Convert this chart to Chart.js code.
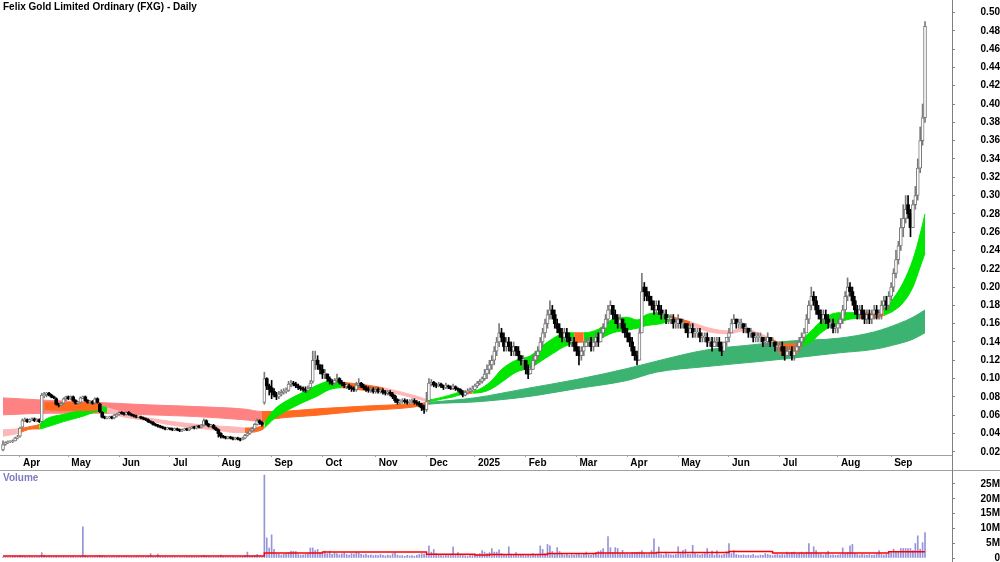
<!DOCTYPE html>
<html><head><meta charset="utf-8">
<script src="https://cdn.jsdelivr.net/npm/chart.js@4.4.1/dist/chart.umd.min.js"></script>
<style>
html,body{margin:0;padding:0;background:#fff;width:1000px;height:562px;overflow:hidden;}
#title{position:absolute;left:3px;top:1px;font:bold 10px "Liberation Sans",Arial,sans-serif;line-height:12px;color:#000;z-index:5;}
#vtitle{position:absolute;left:3px;top:472px;font:bold 10px "Liberation Sans",Arial,sans-serif;line-height:12px;color:#7c7cc0;z-index:5;}
#pc{position:absolute;left:0;top:0;}
#vc{position:absolute;left:0;top:471px;}
#hl{position:absolute;left:0;top:470px;width:1000px;height:1px;background:#a0a0a0;}
#vl{position:absolute;left:952px;top:0;width:1px;height:562px;background:#808080;}
</style></head>
<body>
<canvas id="pc" width="1000" height="470"></canvas>
<canvas id="vc" width="1000" height="91"></canvas>
<div id="hl"></div><div id="vl"></div>
<div id="title">Felix Gold Limited Ordinary (FXG) - Daily</div>
<div id="vtitle">Volume</div>
<script>
// ---- axis categories ----
const monthStart = [7,27,48,69,89,111,132,154,175,195,216,237,258,279,300,321,345,367];
const monthLabels = ['Apr','May','Jun','Jul','Aug','Sep','Oct','Nov','Dec','2025','Feb','Mar','Apr','May','Jun','Jul','Aug','Sep'];
const priceTicks = [0.02,0.04,0.06,0.08,0.10,0.12,0.14,0.16,0.18,0.20,0.22,0.24,0.26,0.28,0.30,0.32,0.34,0.36,0.38,0.40,0.42,0.44,0.46,0.48,0.50];
const volTicks = [0,5,10,15,20,25];

// ---- daily candles (one entry per trading day, Mar 2024 .. Sep 2025) ----
const open = [
.022,.028,.030,.031,.031,.032,.035,
.037,.047,.054,.055,.053,.055,.056,.054,.055,.053,.081,.083,.084,.082,.080,.078,.072,.071,.073,.078,
.080,.078,.080,.076,.073,.074,.079,.080,.076,.074,.075,.073,.078,.072,.063,.058,.057,.057,.058,.057,.059,
.061,.063,.062,.061,.063,.061,.060,.059,.058,.058,.057,.056,.055,.053,.052,.050,.049,.048,.047,.046,.045,
.046,.045,.044,.045,.044,.043,.044,.045,.044,.046,.047,.046,.048,.047,.049,.054,.050,.048,.049,.046,
.044,.040,.037,.036,.035,.036,.035,.034,.035,.034,.033,.035,.038,.040,.043,.045,.050,.054,.052,.074,.100,.092,
.090,.086,.082,.080,.083,.085,.086,.087,.094,.095,.094,.092,.090,.089,.088,.087,.090,.097,.120,.120,.115,
.110,.105,.105,.100,.097,.095,.098,.100,.096,.094,.092,.092,.090,.089,.088,.093,.095,.092,.090,.088,.087,.088,
.086,.088,.086,.087,.085,.084,.085,.083,.081,.077,.074,.075,.076,.075,.074,.075,.076,.074,.073,.071,.069,
.066,.076,.094,.096,.093,.092,.094,.092,.090,.092,.091,.089,.091,.089,.088,.085,.082,.085,.086,.088,
.088,.092,.095,.097,.100,.105,.110,.115,.120,.130,.140,.150,.145,.135,.140,.135,.130,.135,.130,.125,.120,
.120,.110,.105,.110,.120,.125,.130,.140,.150,.160,.170,.175,.170,.160,.155,.150,.145,.150,.145,.140,.140,
.135,.130,.125,.130,.135,.140,.140,.135,.140,.145,.140,.150,.155,.165,.175,.180,.170,.165,.160,.165,.155,
.150,.145,.140,.130,.125,.120,.150,.200,.195,.190,.185,.180,.175,.180,.175,.170,.170,.165,.165,.165,.160,
.160,.165,.160,.160,.155,.150,.155,.150,.150,.150,.145,.145,.145,.140,.140,.135,.140,.140,.135,.130,.140,
.145,.150,.160,.165,.160,.160,.160,.155,.155,.150,.150,.145,.145,.145,.145,.140,.140,.145,.140,.140,.135,
.135,.135,.130,.125,.130,.130,.125,.130,.135,.140,.145,.150,.165,.180,.190,.185,.175,.170,.165,.170,.165,.160,.160,.155,
.155,.160,.165,.175,.190,.200,.195,.185,.175,.170,.175,.170,.165,.170,.165,.170,.175,.170,.170,.180,.185,.180,
.190,.200,.215,.230,.245,.265,.275,.290,.280,.265,.290,.300,.330,.360,.385];
const high = [
.032,.031,.032,.032,.033,.036,.038,
.047,.056,.057,.056,.056,.057,.057,.056,.056,.084,.085,.085,.085,.083,.081,.079,.073,.074,.079,.081,
.081,.081,.081,.077,.075,.080,.081,.081,.077,.076,.076,.079,.079,.073,.064,.059,.058,.059,.059,.061,.062,
.064,.064,.063,.064,.064,.062,.061,.060,.059,.059,.058,.057,.056,.054,.053,.051,.050,.049,.048,.047,.047,
.046,.046,.046,.046,.045,.045,.046,.046,.047,.048,.048,.049,.049,.050,.056,.055,.051,.050,.050,.047,
.045,.041,.038,.037,.037,.037,.036,.036,.036,.035,.036,.039,.041,.044,.047,.051,.056,.055,.053,.107,.101,.094,
.098,.089,.085,.086,.088,.089,.090,.097,.098,.097,.096,.094,.092,.091,.091,.092,.098,.130,.130,.125,.115,
.115,.110,.105,.102,.099,.100,.105,.101,.098,.096,.095,.094,.092,.091,.096,.100,.096,.094,.092,.091,.091,.090,
.091,.090,.089,.089,.087,.087,.087,.085,.082,.078,.077,.078,.078,.077,.077,.078,.078,.076,.075,.073,.071,
.085,.100,.099,.097,.095,.096,.095,.093,.095,.093,.092,.094,.092,.090,.089,.087,.087,.089,.090,.092,
.094,.097,.099,.102,.110,.115,.120,.125,.135,.145,.160,.155,.150,.145,.145,.140,.140,.135,.135,.125,.125,
.120,.115,.115,.125,.130,.135,.145,.155,.165,.175,.185,.180,.175,.165,.160,.155,.155,.155,.150,.145,.145,
.140,.135,.135,.140,.145,.145,.145,.145,.150,.150,.155,.160,.170,.180,.185,.180,.175,.170,.170,.165,.160,
.155,.150,.145,.135,.130,.155,.215,.205,.200,.195,.190,.185,.185,.185,.180,.175,.175,.170,.170,.170,.165,
.170,.165,.165,.160,.160,.160,.160,.155,.155,.155,.150,.150,.150,.145,.145,.145,.145,.145,.140,.140,.145,
.155,.165,.170,.165,.165,.165,.160,.160,.155,.155,.150,.150,.150,.150,.145,.145,.150,.145,.145,.140,.140,
.140,.140,.135,.135,.135,.135,.135,.140,.145,.150,.155,.170,.185,.200,.195,.190,.180,.175,.175,.175,.170,.165,.165,.160,
.165,.170,.180,.195,.210,.205,.200,.190,.180,.180,.180,.175,.175,.175,.175,.180,.180,.175,.185,.190,.190,.195,
.205,.220,.240,.250,.275,.290,.300,.300,.285,.295,.310,.340,.375,.400,.490];
const low = [
.021,.027,.029,.030,.030,.032,.034,
.036,.046,.053,.052,.052,.054,.053,.053,.052,.052,.079,.080,.081,.079,.078,.071,.069,.070,.072,.076,
.077,.077,.075,.072,.072,.073,.078,.075,.073,.073,.072,.072,.073,.063,.057,.056,.056,.056,.056,.056,.058,
.060,.061,.060,.060,.060,.059,.058,.057,.057,.056,.055,.054,.052,.051,.049,.048,.047,.046,.045,.044,.044,
.044,.043,.043,.043,.042,.042,.043,.043,.043,.045,.045,.045,.046,.046,.048,.049,.047,.047,.045,.043,
.036,.035,.035,.034,.034,.034,.033,.033,.033,.032,.033,.034,.037,.039,.042,.044,.049,.050,.048,.072,.088,.082,
.078,.080,.077,.078,.081,.083,.084,.086,.091,.092,.090,.088,.087,.086,.085,.085,.088,.095,.110,.110,.105,
.100,.100,.097,.094,.093,.093,.096,.094,.092,.090,.089,.088,.086,.086,.086,.090,.090,.088,.086,.085,.085,.084,
.084,.084,.084,.083,.082,.082,.081,.078,.074,.072,.072,.073,.073,.072,.072,.073,.072,.071,.069,.065,.062,
.064,.075,.092,.091,.090,.091,.090,.088,.089,.089,.088,.088,.087,.086,.083,.080,.081,.083,.085,.086,
.087,.090,.093,.095,.098,.100,.105,.110,.115,.125,.135,.140,.130,.130,.130,.125,.125,.125,.120,.115,.110,
.105,.100,.105,.110,.115,.120,.130,.135,.145,.155,.165,.165,.155,.150,.145,.140,.140,.140,.135,.135,.130,
.125,.115,.120,.125,.135,.135,.130,.130,.135,.135,.140,.145,.155,.160,.170,.165,.160,.155,.155,.150,.145,
.140,.135,.125,.120,.115,.120,.150,.185,.185,.180,.175,.170,.170,.170,.165,.165,.160,.160,.160,.155,.155,
.155,.155,.155,.150,.145,.150,.145,.145,.145,.140,.140,.140,.135,.135,.130,.135,.135,.130,.125,.130,.135,
.140,.150,.160,.155,.155,.155,.150,.150,.145,.145,.140,.140,.140,.140,.135,.135,.135,.135,.135,.130,.130,
.130,.125,.120,.125,.125,.120,.120,.130,.130,.135,.140,.150,.160,.175,.180,.170,.165,.160,.160,.160,.155,.155,.150,.150,
.150,.155,.160,.170,.185,.190,.180,.170,.165,.165,.165,.160,.160,.160,.160,.165,.165,.165,.165,.175,.175,.175,
.185,.195,.210,.225,.240,.255,.270,.275,.255,.265,.285,.295,.325,.355,.380];
const close = [
.028,.030,.031,.031,.032,.035,.036,
.046,.054,.055,.053,.055,.056,.054,.055,.053,.082,.083,.084,.082,.080,.079,.072,.071,.073,.078,.080,
.078,.080,.076,.073,.074,.079,.080,.076,.074,.075,.073,.078,.074,.064,.058,.057,.057,.058,.057,.060,.061,
.063,.062,.061,.063,.061,.060,.059,.058,.058,.057,.056,.055,.053,.052,.050,.049,.048,.047,.046,.045,.046,
.045,.044,.045,.044,.043,.044,.045,.044,.046,.047,.046,.048,.047,.049,.054,.050,.048,.049,.046,.044,
.040,.037,.036,.035,.036,.035,.034,.035,.034,.033,.035,.038,.040,.043,.045,.050,.054,.052,.050,.100,.092,.088,
.085,.082,.080,.083,.085,.086,.087,.094,.095,.094,.092,.090,.089,.088,.087,.089,.095,.120,.120,.115,.110,
.105,.105,.100,.097,.095,.098,.100,.096,.094,.092,.092,.090,.089,.088,.093,.095,.092,.090,.088,.087,.088,.086,
.088,.086,.087,.085,.084,.085,.083,.080,.076,.074,.075,.076,.075,.074,.075,.076,.074,.073,.071,.068,.066,
.075,.095,.096,.093,.092,.094,.092,.090,.093,.091,.089,.092,.089,.088,.085,.082,.085,.086,.088,.089,
.092,.095,.097,.100,.105,.110,.115,.120,.130,.140,.150,.145,.135,.140,.135,.130,.135,.130,.125,.120,.120,
.110,.105,.110,.120,.125,.130,.140,.150,.160,.170,.175,.170,.160,.155,.150,.145,.150,.145,.140,.140,.135,
.130,.125,.130,.135,.140,.140,.135,.140,.145,.140,.150,.155,.165,.175,.180,.170,.165,.160,.165,.155,.150,
.145,.140,.130,.125,.120,.150,.195,.195,.190,.185,.180,.175,.180,.175,.170,.170,.165,.165,.165,.160,.160,
.165,.160,.160,.155,.150,.155,.150,.150,.150,.145,.145,.145,.140,.140,.135,.140,.140,.135,.130,.140,.145,
.150,.160,.165,.160,.160,.160,.155,.155,.150,.150,.145,.145,.145,.145,.140,.140,.145,.140,.140,.135,.135,
.135,.130,.125,.130,.130,.125,.130,.135,.140,.145,.150,.165,.180,.190,.185,.175,.170,.165,.170,.165,.160,.160,.155,.155,
.160,.165,.175,.190,.200,.195,.185,.175,.170,.175,.170,.165,.170,.165,.170,.175,.170,.170,.180,.185,.180,.190,
.200,.215,.230,.245,.265,.275,.285,.280,.265,.290,.300,.330,.360,.385,.485];
// volume in millions of shares
const volume = [
.3,.4,.2,.3,.5,.6,.4,
.8,.6,.4,.3,.5,.4,.3,.4,.3,1.8,1.0,.6,.5,.4,.3,.6,.4,.3,.5,.4,
.3,.4,.5,.3,.3,.6,10.5,.8,.4,.3,.3,.4,.5,.9,.6,.4,.3,.3,.4,.3,.4,
.5,.3,.4,.6,.3,.4,.3,.5,.4,.3,.4,.3,.5,1.5,.4,.3,1.3,.4,.3,.5,.3,
.3,.4,.3,.2,.3,.4,.3,.5,.3,.4,.3,.4,.3,.5,.9,.6,.4,.3,.4,.3,
.4,1.0,.5,.3,.4,.3,.4,.3,.3,.4,.5,.8,2.0,.6,.7,.9,1.2,.6,.5,28.0,6.8,3.4,
7.8,2.9,1.5,1.2,1.0,1.3,1.5,1.8,2.3,2.3,2.2,1.2,1.0,1.1,1.3,1.5,3.4,3.4,2.5,2.9,1.8,
1.6,2.3,1.5,2.3,1.2,1.8,1.5,1.1,1.4,1.8,1.2,1.0,1.5,1.3,2.0,1.7,1.2,1.0,1.3,.9,1.1,.8,
1.0,.8,1.2,.9,.7,1.0,.8,1.5,1.8,1.0,.7,.8,.6,.9,.7,.8,.6,.9,1.2,1.5,1.3,
1.0,4.1,2.0,2.9,1.5,1.2,1.0,.8,1.1,.9,1.3,3.8,1.0,1.8,.9,1.0,.8,.7,1.0,1.2,
1.0,1.3,1.5,2.5,2.0,1.6,1.8,3.2,2.0,2.0,2.8,1.5,1.2,1.0,3.8,1.3,1.0,1.8,1.2,.9,1.0,
.8,1.0,1.2,1.5,1.0,1.3,4.1,2.9,1.5,4.6,4.1,2.2,1.2,3.5,2.2,1.3,1.0,1.2,.9,1.1,1.0,
1.2,1.5,1.0,1.3,2.0,1.1,1.0,1.4,1.2,2.2,2.5,3.2,1.5,7.2,3.5,1.8,3.5,3.2,1.5,2.6,1.3,
1.5,1.2,1.9,1.9,1.9,2.0,2.5,1.6,1.2,1.4,2.5,6.5,1.5,3.7,1.2,1.0,2.0,1.3,1.1,1.0,1.2,
3.8,1.5,2.5,2.9,1.3,1.2,4.3,1.5,1.2,1.0,1.3,1.5,3.2,1.2,2.3,1.0,2.4,1.1,1.0,1.2,2.2,
4.9,1.5,2.5,1.2,1.0,.9,1.1,.8,1.0,.9,1.2,.8,.7,1.0,.9,1.5,1.2,1.0,.8,1.1,1.3,
1.0,1.2,1.1,2.0,1.5,1.8,2.0,1.3,1.6,2.0,1.5,2.0,4.9,1.8,3.8,2.5,1.5,1.2,1.0,1.4,2.3,1.0,1.1,.9,
1.0,1.2,3.4,1.5,1.8,4.1,4.6,1.6,1.2,1.0,1.3,1.1,1.0,1.2,.9,1.0,1.4,2.5,1.2,1.0,1.3,1.5,
1.8,3.0,2.0,2.2,3.2,3.2,3.2,3.2,3.2,2.5,4.9,7.5,3.0,5.2,8.6];
// volume average (millions), held from each listed day
const vmaIdx = [0,108,132,175,195,201,225,245,270,300,318,366,381];
const vmaVal = [0.7,1.7,2.0,1.3,1.0,1.2,1.5,1.7,1.9,2.2,1.7,2.1,2.1];

// ---- moving-average ribbons ----
const longIdx = [0,20,40,60,80,100,107,112,130,150,170,176,195,216,237,258,270,290,310,325,345,360,370,376,381];
const longTop = [.0789,.0760,.0738,.0713,.0694,.0666,.0640,.064,.067,.070,.0725,.074,.079,.089,.099,.111,.119,.131,.137,.141,.144,.151,.160,.167,.175];
const longBot = [.0604,.0622,.0622,.0604,.0585,.0549,.0531,.056,.060,.065,.069,.072,.0745,.080,.089,.098,.107,.113,.118,.122,.128,.132,.138,.143,.150];
const longTrend = 'ddddddmmmmmuuuuuuuuuuuuuu'.split('');
const shortIdx = [0,6,12,15,18,25,32,40,43,50,60,70,80,90,96,100,107,108,112,118,124,130,135,140,150,157,165,172,176,182,186,190,194,198,202,206,212,218,224,230,232,236,240,246,252,258,262,266,272,276,284,292,300,306,312,318,322,328,330,334,338,342,346,350,354,360,364,368,372,376,379,381];
const shortTop = [.044,.045,.048,.050,.056,.061,.065,.070,.068,.063,.057,.053,.050,.048,.047,.046,.048,.052,.066,.077,.085,.093,.097,.096,.093,.090,.085,.080,.077,.080,.083,.086,.086,.090,.098,.110,.120,.125,.138,.148,.150,.150,.150,.154,.165,.167,.164,.170,.172,.168,.162,.155,.152,.155,.150,.143,.138,.138,.143,.152,.163,.170,.172,.172,.172,.171,.176,.188,.205,.230,.258,.280];
const shortBot = [.037,.040,.045,.045,.047,.053,.058,.064,.063,.058,.054,.049,.046,.043,.041,.041,.044,.046,.056,.066,.074,.081,.088,.090,.087,.086,.082,.077,.075,.078,.080,.083,.084,.085,.089,.096,.107,.112,.122,.132,.135,.139,.140,.143,.150,.153,.155,.158,.160,.163,.158,.151,.149,.152,.147,.140,.126,.128,.135,.140,.150,.157,.162,.165,.166,.166,.169,.174,.183,.200,.222,.237];
const shortTrend = 'dmmuuuuudddddddmmuuuuuummddduuumuuuuuuuuumuuuuuuumdddddmmmuuuuuummuuuuuu'.split('');
const ovIdx = [17,25,32,40,41];
const ovTop = [.074,.074,.074,.0735,.072];
const ovBot = [.066,.065,.065,.066,.068];

// ---- styling ----
const FONT = {family:'"Liberation Sans", Arial, Helvetica, sans-serif', size:10, weight:'bold'};
const shortColors = {u:'#00e600', m:'#ff6a20', d:'#ffb6b6'};
const longColors = {u:'#3cb371', m:'#ff6a20', d:'#ff8282'};
const XMIN = -1.24, XMAX = 392.15;
function noPad(s){ s.paddingTop=0; s.paddingBottom=0; s.paddingLeft=0; s.paddingRight=0; }

function band(idx, top, bot, codes, colors, order){
  const col = c => colors[codes[c.p0DataIndex]] || colors[codes[0]];
  const common = {type:'line', pointRadius:0, borderWidth:1, cubicInterpolationMode:'monotone', order,
                  borderColor: colors[codes[0]], segment:{borderColor: col, backgroundColor: col}};
  return [
    Object.assign({}, common, {data: idx.map((x,k)=>({x, y:top[k]})), fill:'+1', backgroundColor: colors[codes[0]]}),
    Object.assign({}, common, {data: idx.map((x,k)=>({x, y:bot[k]})), fill:false})
  ];
}
const isUp = i => close[i] >= open[i];

const datasets = [];
datasets.push(...band(longIdx, longTop, longBot, longTrend, longColors, 6));
datasets.push(...band(shortIdx, shortTop, shortBot, shortTrend, shortColors, 4));
datasets.push(...band(ovIdx, ovTop, ovBot, 'mmmmm'.split(''), shortColors, 3));
datasets.push({type:'bar', grouped:false, barThickness:1, order:1,
  data: close.map((c,i)=>({x:i, y:[low[i], high[i]]})),
  backgroundColor: ctx => (ctx.dataIndex!==undefined && isUp(ctx.dataIndex)) ? '#7a7a7a' : '#000'});
datasets.push({type:'bar', grouped:false, barThickness:3, minBarLength:1, order:0, borderSkipped:false,
  data: close.map((c,i)=>({x:i, y:[Math.min(open[i],c), Math.max(open[i],c)]})),
  backgroundColor: ctx => (ctx.dataIndex!==undefined && isUp(ctx.dataIndex)) ? '#ffffff' : '#000',
  borderColor: ctx => (ctx.dataIndex!==undefined && isUp(ctx.dataIndex)) ? '#7a7a7a' : '#000',
  borderWidth: ctx => (ctx.dataIndex!==undefined && isUp(ctx.dataIndex)) ? 1 : 0});

new Chart(document.getElementById('pc'), {
  type:'line',
  data:{datasets},
  options:{
    responsive:false, animation:false, devicePixelRatio:1, events:[],
    layout:{padding:0},
    plugins:{legend:{display:false}, tooltip:{enabled:false}},
    scales:{
      x:{type:'linear', min:XMIN, max:XMAX, offset:false, bounds:'data',
        afterBuildTicks: s => { s.ticks = monthStart.map(v=>({value:v})); },
        afterFit: s => { s.height = 15; noPad(s); },
        ticks:{autoSkip:false, maxRotation:0, align:'start', labelOffset:3, padding:0, color:'#000', font:FONT,
          callback:(v,i)=>monthLabels[i]},
        grid:{drawOnChartArea:false, offset:false, tickLength:2, color:'#a0a0a0'},
        border:{color:'#a0a0a0'}},
      y:{type:'linear', position:'right', min:0.0165, max:0.51366, beginAtZero:false, bounds:'data',
        afterBuildTicks: s => { s.ticks = priceTicks.map(v=>({value:v})); },
        afterFit: s => { s.width = 48; noPad(s); },
        ticks:{autoSkip:false, crossAlign:'far', padding:22, color:'#000', font:FONT, callback:v=>v.toFixed(2)},
        grid:{drawOnChartArea:false, tickLength:3, color:'#808080'},
        border:{color:'#808080'}}
    }
  }
});

new Chart(document.getElementById('vc'), {
  type:'bar',
  data:{datasets:[
    {type:'line', order:0, data: vmaIdx.map((x,k)=>({x, y:vmaVal[k]})), stepped:'before', borderColor:'#ff0000', borderWidth:1.5, pointRadius:0, fill:false},
    {type:'bar', order:1, grouped:false, barThickness:1, data: volume.map((v,i)=>({x:i, y:v})), backgroundColor:'#9494da'}
  ]},
  options:{
    responsive:false, animation:false, devicePixelRatio:1, events:[],
    layout:{padding:0},
    plugins:{legend:{display:false}, tooltip:{enabled:false}},
    scales:{
      x:{type:'linear', display:false, min:XMIN, max:XMAX, offset:false, bounds:'data', grid:{offset:false}},
      y:{type:'linear', position:'right', min:-1.35, max:29.39, beginAtZero:false, bounds:'data',
        afterBuildTicks: s => { s.ticks = volTicks.map(v=>({value:v})); },
        afterFit: s => { s.width = 48; noPad(s); },
        ticks:{autoSkip:false, crossAlign:'far', padding:22, color:'#000', font:FONT, callback:v=> v===0 ? '0' : v+'M'},
        grid:{drawOnChartArea:false, tickLength:3, color:'#808080'},
        border:{color:'#808080'}}
    }
  }
});
</script>
</body></html>
